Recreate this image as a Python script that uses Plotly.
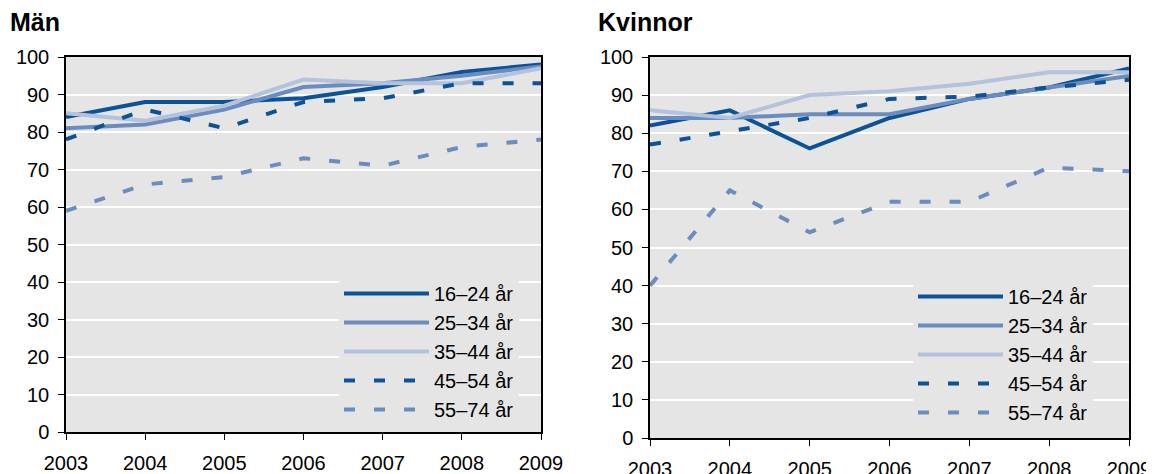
import plotly.graph_objects as go

years = [2003, 2004, 2005, 2006, 2007, 2008, 2009]
groups = ["16–24 år", "25–34 år", "35–44 år", "45–54 år", "55–74 år"]

man_16_24 = [84, 88, 88, 89, 92, 96, 98]
man_25_34 = [81, 82, 86, 92, 93, 95, 97.5]
man_35_44 = [85, 83, 87, 94, 93, 93, 97]
man_45_54 = [78, 86, 81, 88, 89, 93, 93]
man_55_74 = [59, 66, 68, 73, 71, 76, 78]

kv_16_24 = [82, 86, 76, 84, 89, 92, 97]
kv_25_34 = [84, 84, 85, 85, 89, 92, 95]
kv_35_44 = [86, 84, 90, 91, 93, 96, 96]
kv_45_54 = [77, 80.5, 84, 89, 89.6, 92, 94]
kv_55_74 = [40, 65, 54, 62, 62, 71, 70]

DARK = "#0b5396"
MED = "#6b8cbe"
LIGHT = "#b3c3de"
colors = [DARK, MED, LIGHT, DARK, MED]
dashes = ["solid", "solid", "solid", "11px,19px", "11px,19px"]

# the page body adds an 8px margin, so the figure is 8px smaller
# and all layout positions are shifted by OFF
OFF = 8
W, H = 1154 - OFF, 474 - OFF
FONT = "Liberation Sans, Arial, sans-serif"
FS = 20


def px(x):
    return (x - OFF) / W


def py(y):
    return 1 - (y - OFF) / H


fig = go.Figure()

men = [man_16_24, man_25_34, man_35_44, man_45_54, man_55_74]
women = [kv_16_24, kv_25_34, kv_35_44, kv_45_54, kv_55_74]

for i, (g, vals) in enumerate(zip(groups, men)):
    fig.add_trace(go.Scatter(
        x=years, y=vals, mode="lines", name=g,
        line=dict(color=colors[i], width=4, dash=dashes[i]),
        xaxis="x", yaxis="y", legend="legend",
    ))
for i, (g, vals) in enumerate(zip(groups, women)):
    fig.add_trace(go.Scatter(
        x=years, y=vals, mode="lines", name=g,
        line=dict(color=colors[i], width=4, dash=dashes[i]),
        xaxis="x2", yaxis="y2", legend="legend2",
    ))

axis_common = dict(
    showline=True, linecolor="black", linewidth=1.5, mirror=True,
    ticks="outside", ticklen=6, tickcolor="black", tickwidth=1,
    tickfont=dict(family=FONT, size=FS, color="black"),
    zeroline=False, automargin=False,
)

xl = dict(**axis_common, range=[2003, 2009], tickmode="array", tickvals=years,
          ticktext=[str(y) for y in years], showgrid=False, ticklabelstandoff=6)
yl = dict(**axis_common, range=[0, 100], dtick=10, showgrid=True,
          gridcolor="white", gridwidth=2, ticklabelstandoff=5)

leg_common = dict(
    xanchor="left", yanchor="top",
    bgcolor="#e5e5e5", borderwidth=0, itemwidth=85,
    entrywidth=95, entrywidthmode="pixels",
    font=dict(family=FONT, size=FS, color="black"),
)

fig.update_layout(
    width=W, height=H,
    margin=dict(l=0, r=0, t=0, b=0, autoexpand=False),
    paper_bgcolor="white",
    plot_bgcolor="#e5e5e5",
    showlegend=True,
    xaxis=dict(**xl, domain=[px(66), px(541)], anchor="y"),
    yaxis=dict(**yl, domain=[py(432), py(57)], anchor="x"),
    xaxis2=dict(**xl, domain=[px(650), px(1129)], anchor="y2"),
    yaxis2=dict(**yl, domain=[py(438), py(57)], anchor="x2"),
    legend=dict(**leg_common, x=px(339), y=py(274)),
    legend2=dict(**leg_common, x=px(913), y=py(277)),
    annotations=[
        dict(text="<b>Män</b>", x=px(8), y=py(22), xref="paper", yref="paper",
             xanchor="left", yanchor="middle", showarrow=False,
             font=dict(family=FONT, size=25, color="black")),
        dict(text="<b>Kvinnor</b>", x=px(596), y=py(22), xref="paper", yref="paper",
             xanchor="left", yanchor="middle", showarrow=False,
             font=dict(family=FONT, size=25, color="black")),
    ],
)

fig.write_html("out.html")
